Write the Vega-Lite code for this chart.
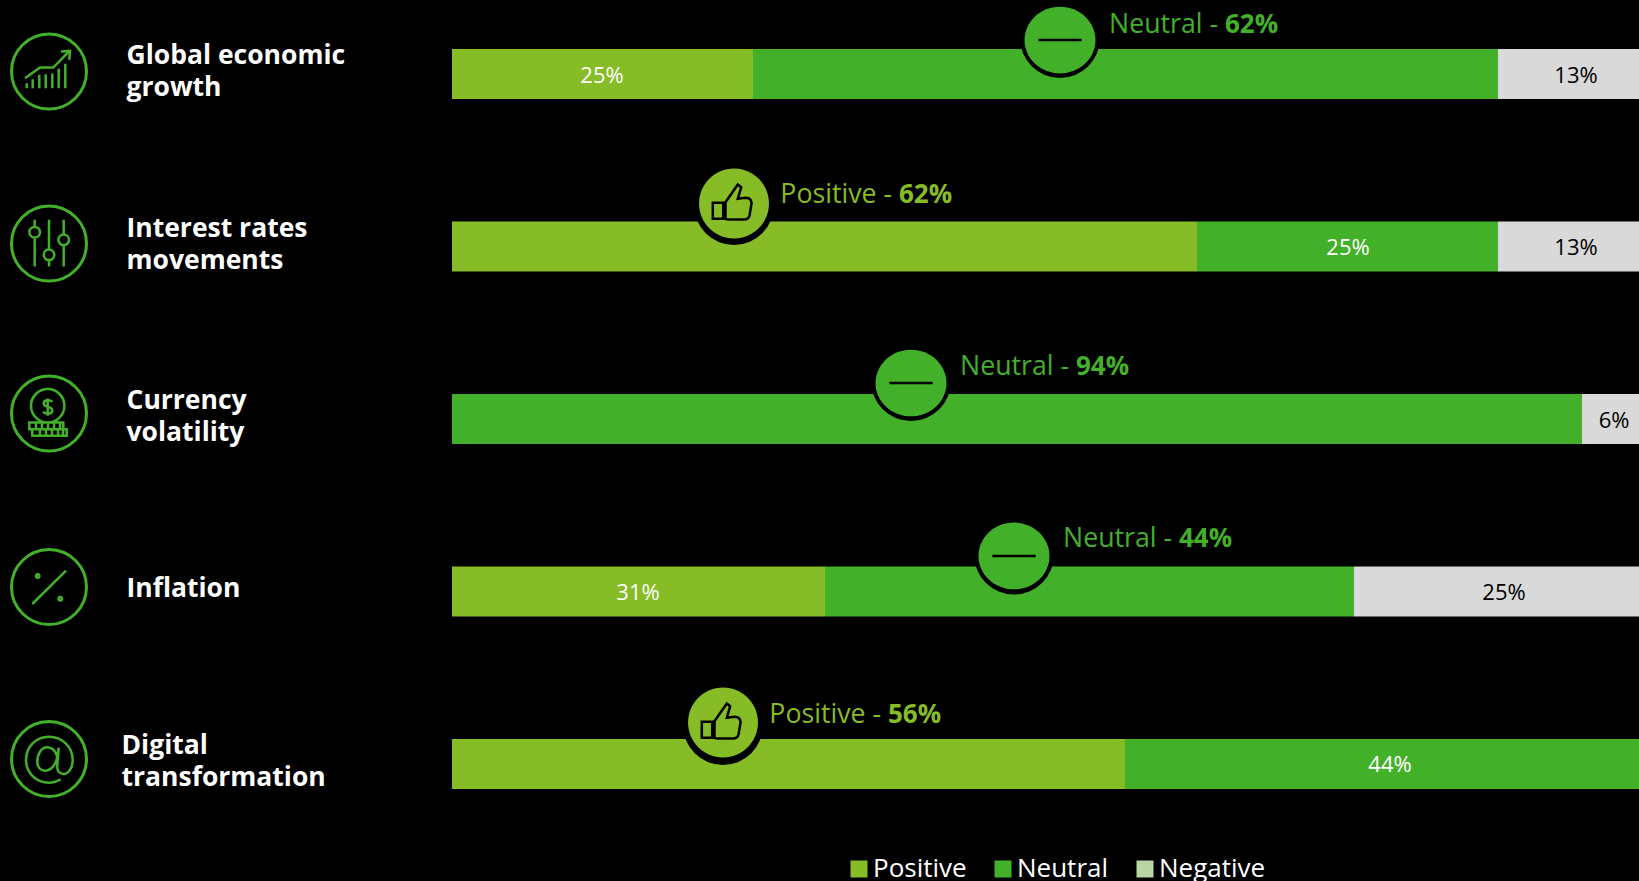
{
  "$schema": "https://vega.github.io/schema/vega-lite/v6.json",
  "width": 1187,
  "height": 881,
  "padding": {"left": 452, "top": 0, "right": 0, "bottom": 0},
  "autosize": {"type": "none"},
  "background": "#000000",
  "config": {"view": {"stroke": null}, "font": "Open Sans"},
  "datasets": {
    "segments": [
      {"topic": "Global economic growth", "sentiment": "Positive", "rank": 1, "share": 25},
      {"topic": "Global economic growth", "sentiment": "Neutral", "rank": 2, "share": 62},
      {"topic": "Global economic growth", "sentiment": "Negative", "rank": 3, "share": 13},
      {"topic": "Interest rates movements", "sentiment": "Positive", "rank": 1, "share": 62},
      {"topic": "Interest rates movements", "sentiment": "Neutral", "rank": 2, "share": 25},
      {"topic": "Interest rates movements", "sentiment": "Negative", "rank": 3, "share": 13},
      {"topic": "Currency volatility", "sentiment": "Neutral", "rank": 2, "share": 94},
      {"topic": "Currency volatility", "sentiment": "Negative", "rank": 3, "share": 6},
      {"topic": "Inflation", "sentiment": "Positive", "rank": 1, "share": 31},
      {"topic": "Inflation", "sentiment": "Neutral", "rank": 2, "share": 44},
      {"topic": "Inflation", "sentiment": "Negative", "rank": 3, "share": 25},
      {"topic": "Digital transformation", "sentiment": "Positive", "rank": 1, "share": 56},
      {"topic": "Digital transformation", "sentiment": "Neutral", "rank": 2, "share": 44}
    ],
    "callouts": [
      {"topic": "Global economic growth", "sentiment": "Neutral", "share": 62, "at": 50.58},
      {"topic": "Interest rates movements", "sentiment": "Positive", "share": 62, "at": 23.42},
      {"topic": "Currency volatility", "sentiment": "Neutral", "share": 94, "at": 38.19},
      {"topic": "Inflation", "sentiment": "Neutral", "share": 44, "at": 46.72},
      {"topic": "Digital transformation", "sentiment": "Positive", "share": 56, "at": 22.55}
    ],
    "topics": [
      {"topic": "Global economic growth"},
      {"topic": "Interest rates movements"},
      {"topic": "Currency volatility"},
      {"topic": "Inflation"},
      {"topic": "Digital transformation"}
    ]
  },
  "encoding": {
    "y": {
      "field": "topic",
      "type": "nominal",
      "scale": {
        "domain": ["Global economic growth", "Interest rates movements", "Currency volatility", "Inflation", "Digital transformation"],
        "range": [49, 789],
        "paddingInner": 0.71,
        "paddingOuter": 0
      },
      "axis": {
        "title": null,
        "domain": false,
        "ticks": false,
        "grid": false,
        "labelAlign": "left",
        "labelBaseline": "middle",
        "labelPadding": {"condition": {"test": "datum.value === 'Digital transformation'", "value": 331}, "value": 326},
        "labelLimit": 400,
        "labelColor": "#ffffff",
        "labelFont": "Open Sans",
        "labelFontWeight": 700,
        "labelFontSize": 26.5,
        "labelLineHeight": 32,
        "labelOffset": {"condition": {"test": "datum.value === 'Inflation'", "value": -2}, "value": -18},
        "labelExpr": "split(replace(datum.label, / (\\S+)$/, '|$1'), '|')"
      }
    }
  },
  "resolve": {"scale": {"shape": "independent"}},
  "layer": [
    {
      "data": {"name": "segments"},
      "transform": [
        {"stack": "share", "groupby": ["topic"], "sort": [{"field": "rank"}], "as": ["from", "to"]}
      ],
      "mark": {"type": "bar", "clip": true},
      "encoding": {
        "x": {
          "field": "from",
          "type": "quantitative",
          "axis": null,
          "scale": {"domain": [0, 98.75], "nice": false, "zero": false, "round": true}
        },
        "x2": {"field": "to"},
        "color": {
          "condition": {"test": "datum.sentiment === 'Negative'", "value": "#D9D9D9"},
          "field": "sentiment",
          "type": "nominal",
          "scale": {
            "domain": ["Positive", "Neutral", "Negative"],
            "range": ["#86BC25", "#43B02A", "#BBD6A5"]
          },
          "legend": {
            "title": null,
            "orient": "none",
            "legendX": 394,
            "legendY": 856,
            "direction": "horizontal",
            "columns": 3,
            "gridAlign": "none",
            "padding": 0,
            "columnPadding": 23,
            "symbolType": "square",
            "symbolSize": 289,
            "symbolStrokeWidth": 0,
            "symbolOpacity": 1,
            "labelOffset": 1,
            "labelFont": "Open Sans",
            "labelFontSize": 26,
            "labelColor": "#ffffff"
          }
        }
      }
    },
    {
      "data": {"name": "segments"},
      "transform": [
        {"stack": "share", "groupby": ["topic"], "sort": [{"field": "rank"}], "as": ["from", "to"]},
        {"calculate": "min((datum.from + datum.to) / 2, 96.7)", "as": "middle"},
        {"calculate": "datum.share + '%'", "as": "caption"},
        {"filter": "!(datum.share === 62 || (datum.share === 94) || (datum.topic === 'Inflation' && datum.share === 44) || (datum.topic === 'Digital transformation' && datum.share === 56))"}
      ],
      "mark": {"type": "text", "font": "Open Sans", "fontSize": 22, "dy": 1.5},
      "encoding": {
        "x": {"field": "middle", "type": "quantitative"},
        "text": {"field": "caption"},
        "color": {
          "condition": {"test": "datum.sentiment === 'Negative'", "value": "#000000"},
          "value": "#ffffff"
        }
      }
    },
    {
      "data": {"name": "callouts"},
      "mark": {
        "type": "point",
        "shape": "circle",
        "size": 6400,
        "filled": true,
        "opacity": 1,
        "color": "#000000",
        "yOffset": {"expr": "{'Global economic growth': -36, 'Interest rates movements': -41.5, 'Currency volatility': -38, 'Inflation': -37, 'Digital transformation': -39}[datum.topic]"}
      },
      "encoding": {"x": {"field": "at", "type": "quantitative"}}
    },
    {
      "data": {"name": "callouts"},
      "mark": {
        "type": "point",
        "size": 5041,
        "filled": true,
        "opacity": 1,
        "yOffset": {"expr": "{'Global economic growth': -34, 'Interest rates movements': -43, 'Currency volatility': -36, 'Inflation': -35.5, 'Digital transformation': -41.5}[datum.topic]"}
      },
      "encoding": {
        "x": {"field": "at", "type": "quantitative"},
        "color": {"field": "sentiment", "type": "nominal", "legend": null},
        "shape": {
          "field": "sentiment",
          "type": "nominal",
          "legend": null,
          "scale": {
            "domain": ["Positive", "Neutral"],
            "range": [
              "M-0.985,0A0.985,0.985 0 1 1 0.985,0A0.985,0.985 0 1 1 -0.985,0Z",
              "M-1,0A1,0.94 0 1 1 1,0A1,0.94 0 1 1 -1,0Z"
            ]
          }
        }
      }
    },
    {
      "data": {"name": "callouts"},
      "mark": {
        "type": "point",
        "size": 40000,
        "filled": false,
        "opacity": 1,
        "color": "#000000",
        "strokeWidth": 2.5,
        "yOffset": {"expr": "{'Global economic growth': -34, 'Interest rates movements': -43, 'Currency volatility': -36, 'Inflation': -35.5, 'Digital transformation': -41.5}[datum.topic]"}
      },
      "encoding": {
        "x": {"field": "at", "type": "quantitative"},
        "shape": {
          "field": "sentiment",
          "type": "nominal",
          "legend": null,
          "scale": {
            "domain": ["Positive", "Neutral"],
            "range": [
              "M-0.212,-0.007L-0.108,-0.007L-0.108,0.153L-0.212,0.153ZM-0.085,0.153L-0.085,-0.013L0.038,-0.19L0.072,-0.163L0.038,-0.047L0.115,-0.057C0.172,-0.057 0.182,-0.013 0.172,0.02L0.155,0.12C0.148,0.153 0.115,0.16 0.098,0.16L-0.052,0.16C-0.075,0.16 -0.085,0.16 -0.085,0.153Z",
              "M-0.217,0L0.217,0"
            ]
          }
        }
      }
    },
    {
      "data": {"name": "callouts"},
      "transform": [{"calculate": "datum.sentiment + ' -'", "as": "lead"}],
      "mark": {
        "type": "text",
        "font": "Open Sans",
        "fontWeight": 400,
        "fontSize": 26.7,
        "align": "right",
        "baseline": "alphabetic",
        "dx": 158,
        "yOffset": {"expr": "{'Global economic growth': -41, 'Interest rates movements': -44, 'Currency volatility': -44.5, 'Inflation': -44.5, 'Digital transformation': -41}[datum.topic]"}
      },
      "encoding": {
        "x": {"field": "at", "type": "quantitative"},
        "text": {"field": "lead"},
        "color": {"field": "sentiment", "type": "nominal", "legend": null}
      }
    },
    {
      "data": {"name": "callouts"},
      "transform": [{"calculate": "datum.share + '%'", "as": "figure"}],
      "mark": {
        "type": "text",
        "font": "Open Sans",
        "fontWeight": 700,
        "fontSize": 26,
        "align": "left",
        "baseline": "alphabetic",
        "dx": 165,
        "yOffset": {"expr": "{'Global economic growth': -41, 'Interest rates movements': -44, 'Currency volatility': -44.5, 'Inflation': -44.5, 'Digital transformation': -41}[datum.topic]"}
      },
      "encoding": {
        "x": {"field": "at", "type": "quantitative"},
        "text": {"field": "figure"},
        "color": {"field": "sentiment", "type": "nominal", "legend": null}
      }
    },
    {
      "data": {"name": "topics"},
      "mark": {
        "type": "point",
        "shape": "circle",
        "size": 5625,
        "filled": false,
        "opacity": 1,
        "color": "#43B02A",
        "strokeWidth": 3,
        "yOffset": {"expr": "{'Global economic growth': -2.5, 'Interest rates movements': -3, 'Currency volatility': -5.5, 'Inflation': -4.5, 'Digital transformation': -5}[datum.topic]"}
      },
      "encoding": {"x": {"datum": -33.53, "type": "quantitative"}}
    },
    {
      "data": {"name": "topics"},
      "mark": {
        "type": "point",
        "size": 40000,
        "filled": false,
        "opacity": 1,
        "color": "#43B02A",
        "strokeWidth": 2.5,
        "yOffset": {"expr": "{'Global economic growth': -2.5, 'Interest rates movements': -3, 'Currency volatility': -5.5, 'Inflation': -4.5, 'Digital transformation': -5}[datum.topic]"}
      },
      "encoding": {
        "x": {"datum": -33.53, "type": "quantitative"},
        "shape": {
          "field": "topic",
          "type": "nominal",
          "legend": null,
          "scale": {
            "domain": ["Global economic growth", "Interest rates movements", "Currency volatility", "Inflation", "Digital transformation"],
            "range": [
              "M-0.24,0.067L-0.09,-0.04L0.043,-0.04L0.193,-0.193M0.12,-0.2L0.21,-0.207L0.203,-0.117M-0.223,0.117L-0.223,0.167M-0.163,0.077L-0.163,0.167M-0.097,0.033L-0.097,0.167M-0.033,0.027L-0.033,0.167M0.033,0.02L0.033,0.167M0.097,-0.027L0.097,0.167M0.163,-0.077L0.163,0.167",
              "M-0.143,-0.237L-0.143,-0.166M-0.143,-0.06L-0.143,0.23M0,-0.237L0,0.06M0,0.166L0,0.23M0.147,-0.237L0.147,-0.09M0.147,0.016L0.147,0.23M-0.196,-0.113A0.053,0.053 0 1 1 -0.09,-0.113A0.053,0.053 0 1 1 -0.196,-0.113ZM-0.053,0.113A0.053,0.053 0 1 1 0.053,0.113A0.053,0.053 0 1 1 -0.053,0.113ZM0.094,-0.037A0.053,0.053 0 1 1 0.2,-0.037A0.053,0.053 0 1 1 0.094,-0.037Z",
              "M-0.18,-0.077A0.167,0.167 0 1 1 0.154,-0.077A0.167,0.167 0 1 1 -0.18,-0.077ZM0.033,-0.117C0.01,-0.14 -0.053,-0.14 -0.053,-0.1C-0.053,-0.057 0.033,-0.077 0.033,-0.03C0.033,0.01 -0.037,0.01 -0.06,-0.017M-0.013,-0.15L-0.013,0.023M-0.197,0.09L0.143,0.09L0.143,0.157L-0.197,0.157ZM-0.167,0.157L0.177,0.157L0.177,0.223L-0.167,0.223ZM-0.13,0.09L-0.13,0.157M-0.07,0.09L-0.07,0.157M-0.01,0.09L-0.01,0.157M0.05,0.09L0.05,0.157M0.11,0.09L0.11,0.157M-0.09,0.157L-0.09,0.223M-0.03,0.157L-0.03,0.223M0.03,0.157L0.03,0.223M0.09,0.157L0.09,0.223M0.14,0.157L0.14,0.223",
              "M-0.167,0.17L0.17,-0.163M-0.13,-0.11A0.017,0.017 0 1 1 -0.096,-0.11A0.017,0.017 0 1 1 -0.13,-0.11ZM0.096,0.117A0.017,0.017 0 1 1 0.13,0.117A0.017,0.017 0 1 1 0.096,0.117Z",
              "M0.117,0.203C0.077,0.223 0.037,0.237 0,0.237C-0.13,0.237 -0.23,0.137 -0.23,0.01C-0.23,-0.123 -0.13,-0.223 0,-0.223C0.13,-0.223 0.237,-0.123 0.237,0.01C0.237,0.093 0.193,0.15 0.143,0.15C0.103,0.15 0.077,0.117 0.083,0.06L0.097,-0.113M0.083,-0.023C0.07,-0.083 0.027,-0.117 -0.017,-0.117C-0.077,-0.117 -0.117,-0.05 -0.117,0.027C-0.117,0.083 -0.083,0.117 -0.043,0.117C0.017,0.117 0.07,0.06 0.083,-0.023Z"
            ]
          }
        }
      }
    }
  ]
}
